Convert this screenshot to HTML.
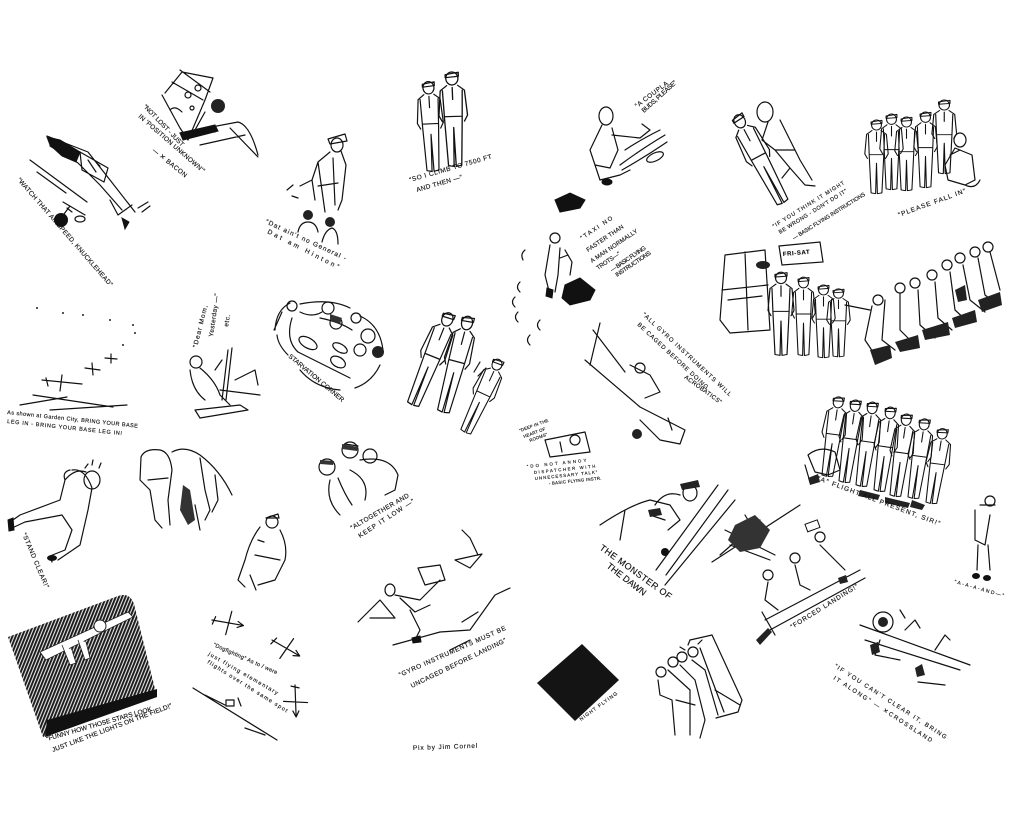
<!DOCTYPE html>
<html><head><meta charset="utf-8"><style>
html,body{margin:0;padding:0;background:#fff;width:1024px;height:814px;overflow:hidden}
svg{display:block}
.l{fill:none;stroke:#111;stroke-width:1.2;stroke-linecap:round;stroke-linejoin:round}
.t{font-family:"Liberation Sans",sans-serif;font-size:6.5px;fill:#111;letter-spacing:0.6px;stroke:#111;stroke-width:0.15}
.b{fill:#111;stroke:#111;stroke-width:1}
</style></head><body>
<svg width="1024" height="814" viewBox="0 0 1024 814" xmlns="http://www.w3.org/2000/svg">
<defs>
<pattern id="h" width="3" height="3" patternUnits="userSpaceOnUse" patternTransform="rotate(22)">
<rect width="3" height="3" fill="#e8e8e8"/><rect width="1.9" height="3" fill="#1a1a1a"/></pattern>
<g id="man">
<ellipse cx="15" cy="9" rx="5.5" ry="6.5" class="l"/>
<path class="l" d="M9,5 L21,3 L21,7 L9,8 Z"/>
<path class="l" d="M10,16 L4,21 L2,46 L5,52 M20,16 L26,21 L28,46 L25,52 M6,21 L7,50 L9,96 L14,97 L15,58 L16,97 L21,96 L23,50 L24,21 M7,47 L23,47 M15,18 L15,30"/>
</g>
<g id="plane">
<path class="l" d="M0,0 L30,0 M18,-12 L16,12 M3,-4 L1,4 M26,-3 L32,0 L26,3"/>
</g>
</defs>

<!-- 1 diving plane -->
<path class="b" d="M47,137 L60,140 L80,152 L76,162 L62,156 L50,145 Z"/>
<path class="l" d="M47,136 L88,152 L110,180 L135,212 M50,146 L78,163 L100,185 L122,210 M80,152 L108,168 L104,182 L82,170 Z M88,160 L96,172 M92,158 L100,166 M110,200 L118,215 L132,205 M30,160 L87,202 M37,172 L66,193 M63,202 L85,215 M64,214 L70,206 M67,208 L72,212 M138,208 L148,202 M142,212 L150,206"/>
<circle cx="61" cy="220" r="7" fill="#111"/>
<ellipse cx="80" cy="219" rx="5" ry="3" class="l"/>
<path class="b" d="M122,218 L129,222 L125,229 Z"/>
<text class="t" transform="translate(17,180) rotate(49)" textLength="142" lengthAdjust="spacing">“WATCH THAT AIRSPEED, KNUCKLEHEAD”</text>

<!-- 2 cockpit -->
<path class="l" d="M165,93 L182,72 L213,78 L205,100 L188,140 M162,95 L180,128 L188,140 M180,70 L210,92 M172,82 L203,100 M185,95 a3,3 0 1,0 6,0 a3,3 0 1,0 -6,0 M195,88 a3,3 0 1,0 6,0 a3,3 0 1,0 -6,0 M190,108 a2,2 0 1,0 4,0 a2,2 0 1,0 -4,0 M205,112 L195,130 L215,132 M180,133 L238,122 Q250,125 258,155 M200,145 L245,135 M230,128 L258,157 M170,110 Q175,105 182,112"/>
<circle cx="218" cy="106" r="7" fill="#222"/>
<path class="b" d="M180,133 L215,125 L218,131 L183,140 Z"/>
<text class="t" transform="translate(143,107) rotate(46)" textLength="56" lengthAdjust="spacing">“NOT LOST - JUST</text>
<text class="t" transform="translate(138,117) rotate(41)" textLength="86" lengthAdjust="spacing">IN 'POSITION UNKNOWN'”</text>
<text class="t" transform="translate(152,151) rotate(39)" textLength="43" lengthAdjust="spacing">— ✕ BACON</text>

<!-- 3 general -->
<ellipse cx="337" cy="145" rx="6" ry="7" class="l"/>
<path class="l" d="M328,139 L345,134 L347,141 L330,144 Z M330,152 L318,162 L312,180 L315,200 M341,151 L346,165 L342,200 L338,210 M318,162 L325,212 M333,158 L335,205 M312,180 L300,186 M318,186 L338,183 M293,185 L287,190 M298,198 L292,196"/>
<circle cx="308" cy="215" r="5" fill="#222"/><circle cx="330" cy="222" r="5" fill="#222"/>
<path class="l" d="M298,232 Q300,222 308,222 Q316,222 318,232 M322,242 Q325,230 332,228 Q338,230 338,244"/>
<text class="t" transform="translate(265,223) rotate(25)" textLength="89" lengthAdjust="spacing">“Dat ain't no General -</text>
<text class="t" transform="translate(267,233) rotate(27)" textLength="80" lengthAdjust="spacing">Dat am  Hinton”</text>

<!-- 4 two men -->
<use href="#man" transform="translate(413,80) scale(1,0.95) rotate(-3)"/>
<use href="#man" transform="translate(435,70) scale(1.1,1) rotate(-2)"/>
<text class="t" transform="translate(410,182) rotate(-16)" textLength="86" lengthAdjust="spacing">“SO I CLIMB TO 7500 FT</text>
<text class="t" transform="translate(417,192) rotate(-16)" textLength="48" lengthAdjust="spacing">AND THEN —”</text>

<!-- 5 formation -->
<g fill="#222"><circle cx="37" cy="308" r="1"/><circle cx="63" cy="313" r="1"/><circle cx="83" cy="315" r="1"/><circle cx="110" cy="320" r="1"/><circle cx="133" cy="325" r="1"/><circle cx="123" cy="345" r="1"/><circle cx="135" cy="333" r="1"/></g>
<path class="l" d="M42,380 L82,384 M62,375 L60,391 M46,378 L48,386 M85,368 L100,370 M92,363 L93,375 M105,358 L117,359 M111,354 L111,363 M20,405 L67,397 M33,395 L113,407 M50,410 L127,405"/>
<text class="t" style="font-size:5.5px" transform="translate(7,414) rotate(6)" textLength="132" lengthAdjust="spacing">As shown at Garden City, BRING YOUR BASE</text>
<text class="t" style="font-size:5.5px" transform="translate(7,423) rotate(6)" textLength="116" lengthAdjust="spacing">LEG IN - BRING YOUR BASE LEG IN!</text>

<!-- 6 dear mom -->
<circle cx="196" cy="362" r="6" class="l"/>
<path class="l" d="M200,368 Q215,380 220,395 L230,405 M190,370 Q192,390 205,400 M228,350 L222,400 M232,348 L226,400 M235,380 L255,370 L258,385 M220,390 L260,395 M215,370 L222,360 M195,410 L240,405 L248,410 L200,418 Z"/>
<text class="t" transform="translate(197,348) rotate(-76)" textLength="44" lengthAdjust="spacing">“Dear Mom,</text>
<text class="t" transform="translate(213,337) rotate(-82)" textLength="44" lengthAdjust="spacing">Yesterday —”</text>
<text class="t" transform="translate(228,327) rotate(-80)">etc.</text>

<!-- 7 starvation corner -->
<path class="l" d="M275,330 Q276,310 290,303 M300,304 Q330,298 350,308 M360,316 Q380,325 383,350 M380,365 Q372,382 355,388 M340,390 Q315,388 300,370 M288,355 Q278,345 277,335 M282,312 L274,330 M300,312 Q312,318 322,312 M320,318 Q340,322 352,330 M292,318 Q285,340 298,352 M298,352 L350,378"/>
<g class="l"><circle cx="292" cy="306" r="5"/><circle cx="328" cy="308" r="6"/><circle cx="336" cy="323" r="6"/><circle cx="356" cy="318" r="5"/><circle cx="368" cy="336" r="7"/><circle cx="360" cy="350" r="6"/></g>
<circle cx="378" cy="352" r="6" fill="#222"/>
<path fill="#333" d="M330,314 L342,318 L340,324 L330,320 Z"/>
<ellipse cx="308" cy="343" rx="10" ry="5" transform="rotate(30 308 343)" class="l"/>
<ellipse cx="340" cy="348" rx="8" ry="4" transform="rotate(30 340 348)" class="l"/>
<ellipse cx="338" cy="362" rx="8" ry="5" transform="rotate(30 338 362)" class="l"/>
<text class="t" transform="translate(288,357) rotate(40)" textLength="71" lengthAdjust="spacing">STARVATION CORNER</text>

<!-- 8 three officers -->
<use href="#man" transform="translate(437,305) rotate(22) scale(1,1.05)"/>
<use href="#man" transform="translate(455,310) rotate(15) scale(1,1.05)"/>
<use href="#man" transform="translate(488,352) rotate(25) scale(0.9,0.85)"/>
<path class="l" d="M474,372 L480,362 M478,376 L486,368"/>

<!-- 9 stand clear -->
<ellipse cx="92" cy="480" rx="8" ry="9" class="l"/>
<path class="l" d="M70,470 Q62,472 65,480 L60,500 L20,515 L10,522 L12,528 L25,522 L62,515 L72,530 L65,550 L50,556 L52,562 M72,470 Q85,468 92,488 L88,510 L80,545 L58,560 M65,480 Q75,468 86,472 M85,468 L88,464 M99,468 L101,463 M92,465 L93,460"/>
<path class="b" d="M8,520 L13,518 L14,530 L9,531 Z"/>
<ellipse cx="52" cy="558" rx="5" ry="3" fill="#111"/>
<text class="t" transform="translate(22,534) rotate(67)" textLength="60" lengthAdjust="spacing">“STAND CLEAR!”</text>

<!-- 10 two bending men -->
<path class="l" d="M141,457 Q145,448 160,450 Q170,452 172,470 L168,500 L170,525 M141,457 L140,480 L150,490 L155,520 L162,528 M148,480 L168,478 M172,452 Q185,445 200,455 Q220,470 232,495 M200,458 L205,490 L210,510 L205,520 M215,475 L218,500 L212,512 M195,505 L200,530"/>
<path fill="#333" d="M183,485 L190,490 L195,520 L188,525 L180,510 Z"/>

<!-- 11 walking man -->
<ellipse cx="272" cy="522" rx="6" ry="6" class="l"/>
<path class="l" d="M266,518 L278,514 L279,518 Z M260,527 Q250,540 245,560 L238,580 L245,587 M280,530 Q288,545 285,560 L275,580 L258,585 M255,555 L280,560 M258,540 L264,542 M250,575 L256,590"/>

<!-- 12 altogether -->
<circle cx="327" cy="467" r="8" class="l"/><circle cx="350" cy="450" r="8" class="l"/><circle cx="370" cy="456" r="7" class="l"/>
<path class="l" d="M330,480 Q325,500 340,515 M338,478 Q345,495 352,505 M350,470 Q370,480 365,500 M360,460 Q390,455 398,475 L395,490 L385,495 M345,444 L358,446"/>
<path fill="#333" d="M342,444 L358,447 L357,451 L342,449 Z M320,460 L334,461 L333,465 L320,464 Z"/>
<text class="t" transform="translate(352,530) rotate(-30)" textLength="67" lengthAdjust="spacing">“ALTOGETHER AND</text>
<text class="t" transform="translate(360,538) rotate(-33)" textLength="66" lengthAdjust="spacing">KEEP IT LOW —”</text>

<!-- 13 gyro uncaged -->
<path class="l" d="M462,530 L470,538 L478,555 M455,560 L482,554 L470,568 Z M418,568 L440,565 L445,580 L425,585 Z M395,595 L420,600 L440,580 M410,610 L420,630 L415,640 M358,622 L380,600 L395,618 L370,618 M393,645 L440,632 L470,630 L495,595 L510,588 M450,650 L470,640 M462,622 L478,612 M400,598 L415,612 L430,605"/>
<ellipse cx="390" cy="590" rx="5" ry="6" class="l"/>
<path class="b" d="M412,638 L420,636 L421,642 L413,643 Z"/>
<text class="t" transform="translate(400,677) rotate(-24)" textLength="117" lengthAdjust="spacing">“GYRO INSTRUMENTS MUST BE</text>
<text class="t" transform="translate(412,688) rotate(-26)" textLength="106" lengthAdjust="spacing">UNCAGED BEFORE LANDING”</text>

<!-- 14 dogfighting -->
<use href="#plane" transform="translate(212,620) rotate(10)"/>
<use href="#plane" transform="translate(272,640) rotate(30)"/>
<use href="#plane" transform="translate(295,685) rotate(88)"/>
<path class="l" d="M193,688 L277,740 M205,695 L225,705 M226,700 L234,700 L234,706 L226,706 Z M238,698 L241,706 M245,728 L265,735"/>
<text class="t" style="font-size:5.5px" transform="translate(213,646) rotate(24)" textLength="70" lengthAdjust="spacing">“Dogfighting” As to / were</text>
<text class="t" style="font-size:5.5px" transform="translate(208,655) rotate(30)" textLength="80" lengthAdjust="spacing">just flying elementary</text>
<text class="t" style="font-size:5.5px" transform="translate(207,663) rotate(32)" textLength="94" lengthAdjust="spacing">flights over the same spot</text>

<!-- 15 hatched square -->
<path d="M8,637 L118,596 Q130,592 134,604 L157,697 L43,737 Z" fill="url(#h)"/>
<path fill="#111" d="M47,720 L157,689 L157,697 L45,737 Z"/>
<path fill="#fff" stroke="#222" stroke-width="0.8" d="M40,652 L128,612 L133,617 L46,660 Z"/>
<path fill="#fff" stroke="#222" stroke-width="0.8" d="M62,645 L70,665 L76,663 L72,650 M78,640 L85,660 L90,658 L86,642"/>
<circle cx="100" cy="626" r="6" fill="#fff" stroke="#222"/>
<text class="t" transform="translate(47,741) rotate(-16)" textLength="110" lengthAdjust="spacing">“FUNNY HOW THOSE STARS LOOK</text>
<text class="t" transform="translate(53,752) rotate(-20.5)" textLength="128" lengthAdjust="spacing">JUST LIKE THE LIGHTS ON THE FIELD!”</text>

<!-- 16 -->
<text class="t" transform="translate(413,750) rotate(-2)" textLength="65" lengthAdjust="spacing">Pix  by  Jim Cornel</text>

<!-- 17 a coupla buds -->
<ellipse cx="606" cy="116" rx="7" ry="9" class="l"/>
<path class="l" d="M602,125 L590,150 L595,165 L610,168 L618,150 L612,128 M612,135 L640,138 L650,130 L642,124 M620,165 Q640,150 665,135 M622,170 Q645,157 667,142 M625,150 Q640,140 660,130 M595,165 L600,180 L620,175 L630,170"/>
<ellipse cx="655" cy="157" rx="9" ry="4" transform="rotate(-25 655 157)" class="l"/>
<ellipse cx="607" cy="182" rx="5" ry="3" class="b"/>
<text class="t" transform="translate(637,108) rotate(-37)" textLength="40" lengthAdjust="spacing">“A COUPLA</text>
<text class="t" transform="translate(644,113) rotate(-42)" textLength="45" lengthAdjust="spacing">BUDS, PLEASE”</text>

<!-- 18 taxi -->
<path class="b" d="M555,200 L570,193 L585,200 L580,208 L560,212 Z"/>
<circle cx="555" cy="238" r="5" class="l"/>
<path class="l" d="M550,245 L545,275 L550,295 M560,248 L558,275 L555,292 M560,258 L568,255 M565,250 L572,262 L570,275 M520,282 q-5,5 0,10 M515,297 q-5,5 0,10 M518,312 q-5,5 0,10 M540,320 q-5,5 0,10 M530,335 q-5,5 0,10 M525,250 q-5,4 -2,10"/>
<path class="b" d="M565,285 L580,278 L595,290 L590,300 L570,305 L562,298 Z"/>
<path class="b" d="M547,288 L553,290 L552,298 L546,296 Z"/>
<g class="t" style="font-size:6px">
<text transform="translate(582,240) rotate(-34)" textLength="38" lengthAdjust="spacing">“TAXI NO</text>
<text transform="translate(588,252) rotate(-34)" textLength="44" lengthAdjust="spacing">FASTER THAN</text>
<text transform="translate(592,263) rotate(-34)" textLength="56" lengthAdjust="spacing">A MAN NORMALLY</text>
<text transform="translate(598,270) rotate(-34)" textLength="28" lengthAdjust="spacing">TROTS—”</text>
<text transform="translate(612,272) rotate(-34)" textLength="42" lengthAdjust="spacing">— BASIC FLYING</text>
<text transform="translate(617,277) rotate(-34)" textLength="42" lengthAdjust="spacing">INSTRUCTIONS</text>
</g>

<!-- 19 couple -->
<use href="#man" transform="translate(722,120) rotate(-28) scale(1,1.05)"/>
<ellipse cx="765" cy="112" rx="8" ry="10" class="l"/>
<path class="l" d="M768,122 L762,140 L775,150 L790,168 L805,185 L815,186 M780,120 L790,140 L800,160 L812,180 M775,150 L795,150 M790,168 L782,178"/>
<g class="t" style="font-size:5.5px">
<text transform="translate(774,228) rotate(-32)" textLength="84" lengthAdjust="spacing">“IF YOU THINK IT MIGHT</text>
<text transform="translate(780,234) rotate(-32)" textLength="80" lengthAdjust="spacing">BE WRONG - DON'T DO IT”</text>
<text transform="translate(794,240) rotate(-32)" textLength="85" lengthAdjust="spacing">— BASIC FLYING INSTRUCTIONS</text>
</g>

<!-- 20 please fall in -->
<use href="#man" transform="translate(863,118) scale(0.9,0.78)"/>
<use href="#man" transform="translate(878,112) scale(0.9,0.8)"/>
<use href="#man" transform="translate(893,115) scale(0.9,0.78)"/>
<use href="#man" transform="translate(912,110) scale(0.9,0.8)"/>
<use href="#man" transform="translate(930,98) scale(0.95,0.78)"/>
<ellipse cx="960" cy="140" rx="6" ry="7" class="l"/>
<path class="l" d="M955,148 L945,165 L948,180 L965,185 L975,180 L972,155 Z M950,155 L960,150 M965,185 Q975,190 980,180"/>
<text class="t" transform="translate(899,217) rotate(-20)" textLength="72" lengthAdjust="spacing">“PLEASE  FALL IN”</text>

<!-- 21 fri-sat queue -->
<path class="l" d="M720,320 L725,255 L765,250 L770,330 L730,333 Z M722,290 L768,285 M745,252 L748,330 M728,300 L762,296"/>
<path fill="#fff" stroke="#111" stroke-width="1.2" d="M779,246 L820,242 L823,262 L782,265 Z"/>
<text class="t" style="font-size:6px;font-weight:bold" transform="translate(783,256) rotate(-5)">FRI-SAT</text>
<ellipse cx="763" cy="265" rx="7" ry="4" fill="#222"/>
<use href="#man" transform="translate(766,270) scale(1,0.88)"/>
<use href="#man" transform="translate(790,275) scale(0.9,0.83)"/>
<use href="#man" transform="translate(810,283) scale(0.9,0.77)"/>
<use href="#man" transform="translate(825,287) scale(0.9,0.72)"/>
<path class="l" d="M845,305 L870,310"/>
<g class="l"><circle cx="878" cy="300" r="5"/><circle cx="900" cy="288" r="5"/><circle cx="915" cy="283" r="5"/><circle cx="932" cy="275" r="5"/><circle cx="947" cy="265" r="5"/><circle cx="960" cy="258" r="5"/><circle cx="975" cy="252" r="5"/><circle cx="988" cy="247" r="5"/></g>
<path class="l" d="M872,306 L865,340 L875,355 M885,300 L882,340 L895,350 M900,294 L900,330 L915,345 M918,290 L920,325 L935,338 M935,282 L938,318 L952,330 M950,272 L955,310 L968,322 M963,265 L970,300 L985,312 M978,258 L985,295 L998,305 M990,252 L1000,290"/>
<path fill="#222" d="M870,350 L890,345 L892,358 L875,365 Z M895,342 L918,335 L920,348 L900,352 Z M922,330 L948,322 L950,335 L925,340 Z M952,318 L975,310 L977,322 L955,328 Z M978,300 L1000,292 L1002,305 L982,312 Z M955,290 L965,285 L967,300 L958,302 Z"/>

<!-- 22 gyro caged -->
<path class="l" d="M600,323 L590,365 M585,360 L640,407 M593,330 L625,372 M640,407 L685,430 L680,444 L660,440 L640,420 M630,365 L650,375 L660,392 L645,398 M668,418 L672,430"/>
<circle cx="640" cy="368" r="5" class="l"/>
<circle cx="637" cy="434" r="5" fill="#222"/>
<g class="t" style="font-size:6px">
<text transform="translate(642,315) rotate(43)" textLength="120" lengthAdjust="spacing">“ALL GYRO INSTRUMENTS WILL</text>
<text transform="translate(637,325) rotate(43)" textLength="95" lengthAdjust="spacing">BE CAGED BEFORE DOING</text>
<text transform="translate(684,378) rotate(36)" textLength="45" lengthAdjust="spacing">ACROBATICS”</text>
</g>

<!-- 23 dispatcher -->
<path class="l" d="M545,440 L585,432 L590,452 L550,457 Z M560,442 L562,452"/>
<circle cx="575" cy="440" r="5" class="l"/>
<g class="t" style="font-size:4.3px;letter-spacing:0.2px">
<text transform="translate(520,432) rotate(-20)">“DEEP IN THE</text>
<text transform="translate(524,438) rotate(-20)">HEART OF</text>
<text transform="translate(530,442) rotate(-20)">ROOMS”</text>
<text transform="translate(527,468) rotate(-6)" textLength="60" lengthAdjust="spacing">“DO NOT ANNOY</text>
<text transform="translate(534,474) rotate(-6)" textLength="62" lengthAdjust="spacing">DISPATCHER WITH</text>
<text transform="translate(535,480) rotate(-6)" textLength="63" lengthAdjust="spacing">UNNECESSARY TALK”</text>
<text transform="translate(549,485) rotate(-6)" textLength="53" lengthAdjust="spacing">- BASIC FLYING INSTR.</text>
</g>

<!-- 24 A flight -->
<use href="#man" transform="translate(826,393) scale(0.9,0.85) rotate(8)"/>
<use href="#man" transform="translate(843,396) scale(0.9,0.88) rotate(8)"/>
<use href="#man" transform="translate(860,398) scale(0.9,0.9) rotate(8)"/>
<use href="#man" transform="translate(878,403) scale(0.9,0.9) rotate(8)"/>
<use href="#man" transform="translate(894,410) scale(0.9,0.88) rotate(8)"/>
<use href="#man" transform="translate(912,415) scale(0.9,0.85) rotate(8)"/>
<use href="#man" transform="translate(930,425) scale(0.9,0.8) rotate(8)"/>
<path class="l" d="M808,455 Q820,445 835,452 L840,470 L828,475 L815,472 Z M805,465 L810,482"/>
<path fill="#222" d="M808,478 L818,474 L820,482 L810,485 Z M860,490 L880,495 L878,500 L858,496 Z M885,497 L910,503 L908,508 L885,503 Z M912,500 L925,505 L922,510 L910,507 Z"/>
<text class="t" transform="translate(817,480) rotate(20.5)" textLength="131" lengthAdjust="spacing">“A”  FLIGHT  ALL PRESENT, SIR!”</text>

<!-- 25 monster -->
<path class="l" d="M656,570 L718,485 M666,575 L728,490 M735,500 L665,585 M600,525 Q630,505 650,500 L670,505 L680,520 L668,530 M620,540 L625,510 M655,505 Q665,490 680,495 M650,515 L665,520"/>
<ellipse cx="690" cy="493" rx="7" ry="8" class="l"/>
<path fill="#222" d="M680,484 L698,480 L700,487 L682,490 Z M648,510 L660,508 L662,515 L650,517 Z"/>
<circle cx="665" cy="552" r="4" fill="#111"/>
<text class="t" style="font-size:9px" transform="translate(599,549) rotate(36)" textLength="87" lengthAdjust="spacing">THE MONSTER OF</text>
<text class="t" style="font-size:9px" transform="translate(606,567) rotate(38)" textLength="48" lengthAdjust="spacing">THE DAWN</text>

<!-- 26 forced landing -->
<path class="l" d="M712,562 L800,505 M720,555 L760,520 M730,545 L770,560 M725,530 L775,555 M745,515 L760,540 M740,540 L750,520 M765,620 L860,570 M770,630 L865,578"/>
<path fill="#333" d="M735,525 L755,515 L770,530 L760,548 L740,552 L728,540 Z"/>
<rect x="806" y="522" width="13" height="8" transform="rotate(-20 812 526)" fill="#fff" stroke="#111"/>
<g class="l"><circle cx="768" cy="575" r="5"/><circle cx="795" cy="558" r="5"/><circle cx="820" cy="537" r="5"/></g>
<path class="l" d="M768,582 L765,600 L778,610 M795,565 L800,585 L810,590 M820,545 L835,560 L845,570 M762,612 L775,635"/>
<path fill="#222" d="M756,640 L768,628 L772,632 L760,645 Z M838,578 L846,575 L848,582 L840,584 Z"/>
<text class="t" transform="translate(792,629) rotate(-32)" textLength="79" lengthAdjust="spacing">“FORCED LANDING!”</text>

<!-- 27 golfer -->
<circle cx="990" cy="501" r="5" class="l"/>
<path class="l" d="M980,505 L995,505 M975,510 L975,540 L985,545 L990,515 M978,545 L977,570 M988,545 L990,570"/>
<ellipse cx="976" cy="576" rx="4" ry="3" fill="#111"/><ellipse cx="987" cy="578" rx="4" ry="3" fill="#111"/>
<text class="t" style="font-size:5px" transform="translate(954,583) rotate(16)" textLength="52" lengthAdjust="spacing">“A-A-A-AND—”</text>

<!-- 28 crossland -->
<circle cx="883" cy="622" r="10" class="l"/><circle cx="883" cy="622" r="5" fill="#222"/>
<path class="l" d="M860,625 L970,665 M865,640 L960,670 M900,610 L905,618 M905,630 L915,620 L920,628 M935,650 L945,635 L950,640 M880,640 L875,655 L900,660"/>
<path fill="#222" d="M870,645 L878,642 L880,652 L872,655 Z M915,668 L922,664 L925,675 L917,677 Z"/>
<path class="l" d="M918,682 L945,685"/>
<g class="t" style="font-size:6px">
<text transform="translate(834,667) rotate(33)" textLength="133" lengthAdjust="spacing">“IF YOU CAN'T CLEAR IT, BRING</text>
<text transform="translate(833,679) rotate(33)" textLength="117" lengthAdjust="spacing">IT ALONG”  — ✕CROSSLAND</text>
</g>

<!-- 29 night flying -->
<path fill="#141414" d="M537,683 L582,644 L619,680 L575,721 Z"/>
<text class="t" style="font-size:5px" transform="translate(581,721) rotate(-36)" textLength="46" lengthAdjust="spacing">NIGHT FLYING</text>

<!-- 30 group with door -->
<path class="l" d="M690,640 L712,635 L742,700 L738,712 L716,718 M700,648 L724,712"/>
<path class="l" d="M715,690 L740,705" stroke-width="3"/>
<g class="l"><circle cx="661" cy="672" r="5"/><circle cx="673" cy="662" r="5"/><circle cx="682" cy="657" r="5"/><circle cx="693" cy="652" r="5"/></g>
<path class="l" d="M658,680 L660,695 L672,700 L675,735 M668,670 L690,690 L690,735 M680,665 L695,680 L705,720 L700,738 M692,660 L705,670 L718,715 M676,700 L695,705"/>
<path class="l" d="M688,645 L690,640 M698,644 L702,640 M685,650 L680,647"/>
</svg>
</body></html>
